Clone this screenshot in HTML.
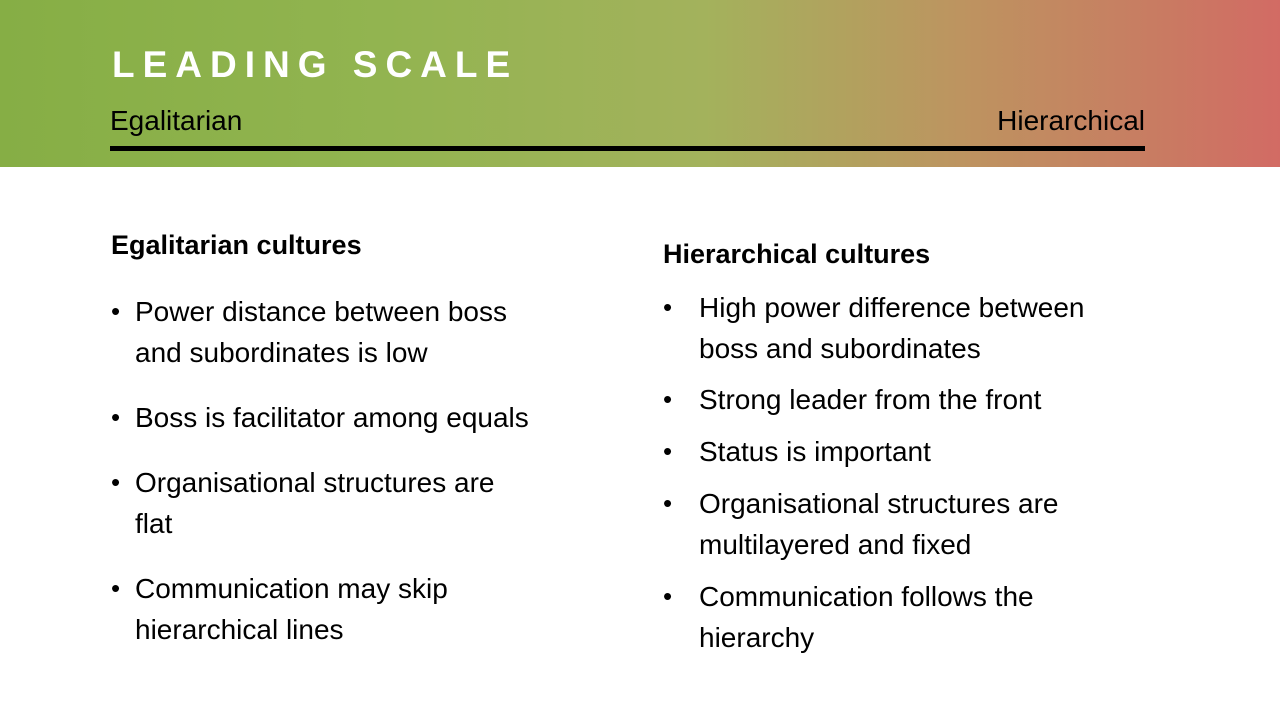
<!DOCTYPE html>
<html><head><meta charset="utf-8"><style>
*{margin:0;padding:0}
body{width:1280px;height:720px;position:relative;background:#fff;font-family:"Liberation Sans",sans-serif;overflow:hidden;color:#000}
.hdr{position:absolute;left:0;top:0;width:1280px;height:167px;background:linear-gradient(90deg,#86ae45 0%,#92b450 30%,#a3b25c 55%,#bd9460 75%,#c87c62 90%,#d26b64 100%)}
.t{position:absolute;white-space:nowrap}
.title{left:112px;top:44px;font-size:37px;font-weight:bold;color:#fff;letter-spacing:8px}
.lab{font-size:28px;top:105px}
.line{position:absolute;left:110px;top:146px;width:1035px;height:5px;background:#000}
.h{font-size:27px;font-weight:bold}
.b{font-size:28px;line-height:41px}
.dot{position:absolute;font-size:26px}
</style></head><body>
<div class="hdr"></div>
<div class="t title">LEADING SCALE</div>
<div class="t lab" style="left:110px">Egalitarian</div>
<div class="t lab" style="right:135px">Hierarchical</div>
<div class="line"></div>

<div class="t h" style="left:111px;top:230px">Egalitarian cultures</div>
<div class="t h" style="left:663px;top:239px">Hierarchical cultures</div>

<div class="dot" style="left:111px;top:296px">•</div>
<div class="t b" style="left:135px;top:291px">Power distance between boss<br>and subordinates is low</div>
<div class="dot" style="left:111px;top:402px">•</div>
<div class="t b" style="left:135px;top:397px">Boss is facilitator among equals</div>
<div class="dot" style="left:111px;top:467px">•</div>
<div class="t b" style="left:135px;top:462px">Organisational structures are<br>flat</div>
<div class="dot" style="left:111px;top:573px">•</div>
<div class="t b" style="left:135px;top:568px">Communication may skip<br>hierarchical lines</div>

<div class="dot" style="left:663px;top:292px">•</div>
<div class="t b" style="left:699px;top:287px">High power difference between<br>boss and subordinates</div>
<div class="dot" style="left:663px;top:384px">•</div>
<div class="t b" style="left:699px;top:379px">Strong leader from the front</div>
<div class="dot" style="left:663px;top:436px">•</div>
<div class="t b" style="left:699px;top:431px">Status is important</div>
<div class="dot" style="left:663px;top:488px">•</div>
<div class="t b" style="left:699px;top:483px">Organisational structures are<br>multilayered and fixed</div>
<div class="dot" style="left:663px;top:581px">•</div>
<div class="t b" style="left:699px;top:576px">Communication follows the<br>hierarchy</div>
</body></html>
